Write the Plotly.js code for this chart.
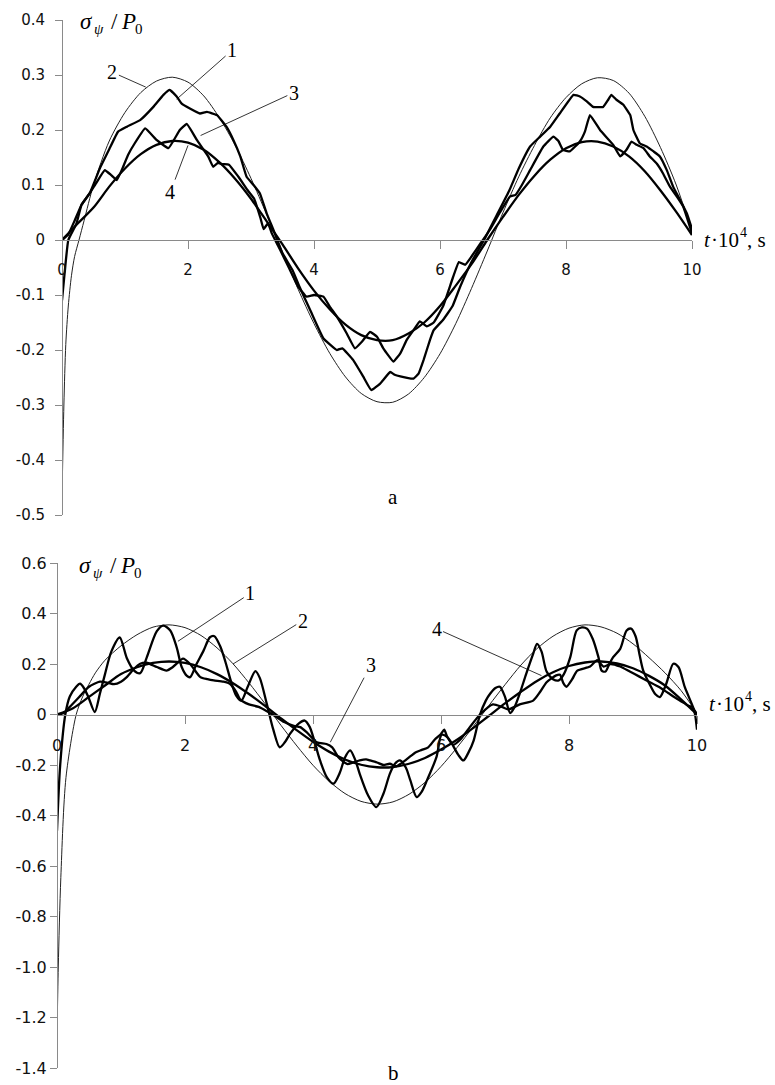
<!DOCTYPE html>
<html><head><meta charset="utf-8">
<script src="https://cdn.plot.ly/plotly-3.0.1.min.js"></script>
<style>html,body{margin:0;padding:0;background:#fff}#chart{width:775px;height:1085px}</style>
</head><body><div id="chart"></div>
<script>
// ---------- data ----------
const xTicks = [0, 2, 4, 6, 8, 10];
const xTickText = ["0", "2", "4", "6", "8", "10"];
const yTicksA = [-0.5, -0.4, -0.3, -0.2, -0.1, 0, 0.1, 0.2, 0.3, 0.4];
const yTickTextA = ["-0.5", "-0.4", "-0.3", "-0.2", "-0.1", "0", "0.1", "0.2", "0.3", "0.4"];
const yTicksB = [-1.4, -1.2, -1.0, -0.8, -0.6, -0.4, -0.2, 0, 0.2, 0.4, 0.6];
const yTickTextB = ["-1.4", "-1.2", "-1.0", "-0.8", "-0.6", "-0.4", "-0.2", "0", "0.2", "0.4", "0.6"];

const tGrid = [0,0.25,0.5,0.75,1,1.25,1.5,1.75,2,2.25,2.5,2.75,3,3.25,3.5,3.75,4,4.25,4.5,4.75,5,5.25,5.5,5.75,6,6.25,6.5,6.75,7,7.25,7.5,7.75,8,8.25,8.5,8.75,9,9.25,9.5,9.75,10];

// panel a
const tA1 = [0,0.05,0.1,0.23,0.31,0.44,0.6,0.75,0.89,1.03,1.24,1.45,1.61,1.71,1.82,1.9,2.03,2.19,2.3,2.46,2.61,2.72,2.83,2.93,3.04,3.14,3.25,3.35,3.5,3.66,3.77,3.95,4.15,4.36,4.45,4.62,4.78,4.91,5.05,5.21,5.28,5.37,5.58,5.66,5.74,5.84,5.9,6.05,6.2,6.32,6.5,6.7,6.9,7.1,7.25,7.43,7.59,7.75,7.9,8.12,8.22,8.33,8.43,8.59,8.67,8.72,8.8,8.91,9.02,9.07,9.17,9.28,9.39,9.49,9.6,9.7,9.81,9.92,10];
const sA1 = [-0.11,-0.05,0,0.03,0.064,0.085,0.13,0.165,0.197,0.206,0.218,0.242,0.264,0.273,0.261,0.248,0.239,0.23,0.233,0.227,0.206,0.182,0.152,0.115,0.1,0.085,0.048,0.02,-0.024,-0.055,-0.085,-0.13,-0.179,-0.2,-0.197,-0.218,-0.248,-0.273,-0.261,-0.24,-0.245,-0.248,-0.252,-0.243,-0.218,-0.182,-0.164,-0.145,-0.12,-0.085,-0.04,0,0.045,0.09,0.13,0.17,0.188,0.206,0.23,0.264,0.261,0.252,0.242,0.242,0.255,0.264,0.255,0.246,0.227,0.2,0.176,0.17,0.161,0.152,0.127,0.097,0.073,0.048,0.02];
const tA2 = [0,0.03,0.06,0.1,0.15,0.2,0.27,0.35,0.5,0.75,1,1.25,1.5,1.75,2,2.25,2.5,2.75,3,3.25,3.5,3.75,4,4.25,4.5,4.75,5,5.25,5.5,5.75,6,6.25,6.5,6.75,7,7.25,7.5,7.75,8,8.25,8.5,8.75,9,9.25,9.5,9.75,10];
const sA2 = [-0.47,-0.3,-0.19,-0.12,-0.065,-0.03,0,0.035,0.1,0.18,0.232,0.268,0.289,0.296,0.287,0.262,0.222,0.172,0.112,0.046,-0.022,-0.09,-0.152,-0.206,-0.249,-0.279,-0.294,-0.295,-0.28,-0.25,-0.207,-0.152,-0.088,-0.02,0.05,0.115,0.172,0.222,0.259,0.284,0.295,0.29,0.267,0.225,0.168,0.1,0.015];
const tA3 = [0,0.1,0.2,0.31,0.44,0.55,0.68,0.78,0.87,0.97,1.05,1.15,1.32,1.5,1.69,1.87,1.98,2.14,2.32,2.4,2.47,2.55,2.65,2.8,2.95,3.05,3.15,3.2,3.27,3.33,3.45,3.6,3.75,3.88,4.0,4.15,4.25,4.36,4.52,4.65,4.76,4.89,5.0,5.1,5.26,5.37,5.47,5.58,5.68,5.79,5.9,6.05,6.2,6.3,6.4,6.5,6.65,6.8,6.95,7.11,7.2,7.3,7.43,7.64,7.8,7.88,7.95,8.06,8.22,8.3,8.38,8.54,8.75,8.86,8.96,9.04,9.12,9.23,9.33,9.44,9.54,9.65,9.76,9.86,10];
const sA3 = [0,0.01,0.035,0.064,0.085,0.105,0.127,0.118,0.109,0.133,0.155,0.175,0.203,0.182,0.167,0.2,0.211,0.182,0.152,0.133,0.14,0.138,0.137,0.115,0.09,0.075,0.04,0.02,0.03,0.012,-0.015,-0.05,-0.085,-0.103,-0.1,-0.103,-0.121,-0.139,-0.17,-0.197,-0.185,-0.167,-0.176,-0.197,-0.221,-0.206,-0.182,-0.164,-0.148,-0.157,-0.15,-0.12,-0.07,-0.04,-0.045,-0.03,-0.005,0.02,0.05,0.079,0.082,0.1,0.127,0.17,0.188,0.18,0.164,0.161,0.179,0.197,0.227,0.2,0.173,0.152,0.164,0.179,0.173,0.167,0.152,0.139,0.121,0.097,0.079,0.061,0.012];
const sA4 = [0,0.03,0.059,0.097,0.13,0.156,0.173,0.18,0.177,0.164,0.141,0.111,0.075,0.034,-0.008,-0.052,-0.092,-0.126,-0.154,-0.173,-0.182,-0.182,-0.17,-0.15,-0.12,-0.083,-0.044,0,0.042,0.082,0.117,0.146,0.167,0.178,0.179,0.17,0.152,0.125,0.09,0.051,0.009];

// panel b
const tB1 = [0,0.05,0.13,0.2,0.3,0.36,0.42,0.49,0.59,0.67,0.75,0.85,0.98,1.09,1.2,1.3,1.4,1.56,1.66,1.77,1.87,1.95,2.03,2.08,2.18,2.29,2.39,2.46,2.55,2.63,2.72,2.8,2.88,2.98,3.1,3.17,3.28,3.38,3.48,3.56,3.64,3.78,3.87,3.95,4.11,4.22,4.32,4.42,4.5,4.58,4.66,4.73,4.86,4.99,5.1,5.2,5.28,5.36,5.45,5.52,5.62,5.7,5.78,5.93,6.01,6.1,6.19,6.27,6.35,6.43,6.51,6.61,6.7,6.77,6.85,6.92,7,7.08,7.15,7.23,7.33,7.44,7.5,7.57,7.65,7.75,7.84,7.92,8.02,8.12,8.2,8.28,8.37,8.46,8.51,8.57,8.63,8.69,8.8,8.9,8.97,9.04,9.1,9.16,9.26,9.35,9.42,9.52,9.63,9.71,9.81,9.94,9.97,10];
const sB1 = [-0.46,-0.2,0,0.071,0.11,0.122,0.105,0.069,0.01,0.082,0.16,0.25,0.305,0.224,0.175,0.164,0.224,0.33,0.352,0.333,0.266,0.187,0.153,0.148,0.2,0.253,0.306,0.31,0.27,0.21,0.13,0.075,0.055,0.11,0.172,0.144,0.04,-0.06,-0.13,-0.11,-0.077,-0.035,-0.024,-0.05,-0.182,-0.25,-0.274,-0.23,-0.17,-0.142,-0.18,-0.235,-0.32,-0.367,-0.314,-0.235,-0.195,-0.182,-0.21,-0.26,-0.327,-0.305,-0.261,-0.168,-0.08,-0.09,-0.124,-0.16,-0.182,-0.15,-0.103,0,0.055,0.083,0.105,0.11,0.07,0.006,0.03,0.083,0.16,0.24,0.28,0.25,0.17,0.14,0.135,0.16,0.227,0.333,0.345,0.34,0.3,0.227,0.174,0.17,0.2,0.227,0.26,0.333,0.34,0.31,0.24,0.174,0.12,0.08,0.069,0.122,0.201,0.188,0.108,0.028,0.0,-0.06];
const tB2 = [0,0.02,0.06,0.14,0.3,0.4,0.5,0.6,0.75,1,1.25,1.5,1.75,2,2.25,2.5,2.75,3,3.25,3.5,3.75,4,4.25,4.5,4.75,5,5.25,5.5,5.75,6,6.25,6.5,6.75,7,7.25,7.5,7.75,8,8.25,8.5,8.75,9,9.25,9.5,9.75,10];
const sB2 = [-1.28,-1.0,-0.645,-0.25,0,0.07,0.12,0.165,0.215,0.272,0.316,0.346,0.355,0.344,0.313,0.264,0.201,0.125,0.043,-0.043,-0.125,-0.201,-0.264,-0.313,-0.344,-0.355,-0.346,-0.316,-0.269,-0.206,-0.131,-0.049,0.036,0.118,0.196,0.261,0.31,0.342,0.355,0.347,0.322,0.28,0.225,0.165,0.095,0.005];
const tB3 = [0,0.1,0.2,0.35,0.5,0.67,0.8,0.89,1,1.09,1.2,1.3,1.4,1.56,1.71,1.81,1.97,2.08,2.24,2.35,2.45,2.6,2.7,2.8,2.86,3,3.15,3.28,3.4,3.55,3.7,3.8,3.9,4.06,4.21,4.3,4.4,4.53,4.63,4.73,4.83,4.89,5,5.1,5.2,5.3,5.4,5.5,5.6,5.7,5.8,5.9,6,6.05,6.1,6.19,6.3,6.45,6.61,6.81,6.95,7.05,7.23,7.44,7.55,7.65,7.8,7.86,7.91,7.96,8.05,8.13,8.33,8.44,8.54,8.65,8.8,8.95,9.1,9.25,9.4,9.55,9.7,9.8,9.86,9.92,10];
const sB3 = [0,0.005,0.03,0.07,0.11,0.13,0.125,0.12,0.13,0.148,0.18,0.201,0.205,0.188,0.174,0.188,0.221,0.2,0.148,0.14,0.135,0.13,0.122,0.09,0.06,0.04,0.03,0.013,-0.005,-0.03,-0.045,-0.05,-0.07,-0.11,-0.117,-0.13,-0.17,-0.196,-0.19,-0.182,-0.178,-0.182,-0.19,-0.2,-0.195,-0.205,-0.19,-0.17,-0.15,-0.14,-0.13,-0.1,-0.077,-0.06,-0.09,-0.12,-0.1,-0.05,0,0.04,0.03,0.02,0.04,0.055,0.09,0.128,0.155,0.157,0.125,0.11,0.14,0.174,0.19,0.215,0.19,0.2,0.19,0.17,0.15,0.13,0.11,0.085,0.06,0.045,0.035,0.03,0];
const sB4 = [0,0.025,0.07,0.115,0.16,0.187,0.204,0.21,0.204,0.187,0.16,0.124,0.081,0.034,-0.015,-0.063,-0.108,-0.147,-0.178,-0.199,-0.209,-0.208,-0.195,-0.172,-0.139,-0.1,-0.054,-0.005,0.044,0.09,0.133,0.167,0.192,0.206,0.21,0.202,0.183,0.153,0.115,0.06,0];

// ---------- layout helpers ----------
const W = 775, H = 1085;
const fy = py => 1 - py / H;
const domA = {x: [62 / W, 692 / W], y: [fy(515), fy(20)]};
const domB = {x: [57 / W, 697 / W], y: [fy(1068), fy(563)]};
const rangeA = [-0.5, 0.4], rangeB = [-1.4, 0.6];
const zeroPos = (dom, r) => dom[0] + (0 - r[0]) / (r[1] - r[0]) * (dom[1] - dom[0]);

const AX = '#8a8a8a';
const sansA = {family: 'DejaVu Sans, Verdana, sans-serif', size: 15, color: '#111'};
const sansB = {family: 'DejaVu Sans, Verdana, sans-serif', size: 16, color: '#111'};
const serif = 'Liberation Serif, Times New Roman, serif';

function xAxis(dom, yr, ydom, font) {
  return {domain: dom, range: [0, 10], anchor: 'free', position: zeroPos(ydom, yr),
    showline: true, linecolor: AX, linewidth: 1, ticks: 'outside', ticklen: 8, tickcolor: AX, tickwidth: 1,
    tickmode: 'array', tickvals: xTicks, ticktext: xTickText, tickfont: font, ticklabelstandoff: 8,
    showgrid: false, zeroline: false, fixedrange: true};
}
function yAxis(dom, r, xpos, vals, txt, font, standoff) {
  return {domain: dom, range: r, anchor: 'free', position: xpos,
    showline: true, linecolor: AX, linewidth: 1, ticks: 'outside', ticklen: 7, tickcolor: AX, tickwidth: 1,
    tickmode: 'array', tickvals: vals, ticktext: txt, tickfont: font, ticklabelstandoff: standoff,
    showgrid: false, zeroline: false, fixedrange: true};
}

const thin = {color: '#222', width: 1};
const bold = {color: '#000', width: 2.3};

const traces = [
  {x: tA2, y: sA2, xaxis: 'x', yaxis: 'y', mode: 'lines', line: Object.assign({shape: 'spline', smoothing: 0.8}, thin)},
  {x: tGrid, y: sA4, xaxis: 'x', yaxis: 'y', mode: 'lines', line: Object.assign({shape: 'spline', smoothing: 0.8}, bold)},
  {x: tA3, y: sA3, xaxis: 'x', yaxis: 'y', mode: 'lines', line: Object.assign({shape: 'spline', smoothing: 0.3}, bold)},
  {x: tA1, y: sA1, xaxis: 'x', yaxis: 'y', mode: 'lines', line: Object.assign({shape: 'spline', smoothing: 0.3}, bold)},
  {x: tB2, y: sB2, xaxis: 'x2', yaxis: 'y2', mode: 'lines', line: Object.assign({shape: 'spline', smoothing: 0.8}, thin)},
  {x: tGrid, y: sB4, xaxis: 'x2', yaxis: 'y2', mode: 'lines', line: Object.assign({shape: 'spline', smoothing: 0.8}, bold)},
  {x: tB3, y: sB3, xaxis: 'x2', yaxis: 'y2', mode: 'lines', line: Object.assign({shape: 'spline', smoothing: 0.6}, bold)},
  {x: tB1, y: sB1, xaxis: 'x2', yaxis: 'y2', mode: 'lines', line: Object.assign({shape: 'spline', smoothing: 0.8}, bold)}
];

function leader(xr, yr, txt, tip, pos) {
  return {xref: xr, yref: yr, axref: xr, ayref: yr, x: tip[0], y: tip[1], ax: pos[0], ay: pos[1],
    text: txt, showarrow: true, arrowhead: 0, arrowwidth: 0.8, arrowcolor: '#000', standoff: 0,
    font: {family: serif, size: 20, color: '#000'}};
}
function note(px, py, txt, size, italic, anchor) {
  return {xref: 'paper', yref: 'paper', x: px / W, y: fy(py), xanchor: anchor || 'left', yanchor: 'middle',
    text: txt, showarrow: false, borderpad: 0,
    font: {family: serif, size: size, color: '#000', style: italic ? 'italic' : 'normal'}};
}
// y-axis title σψ / P0 built from pieces (subscripts lowered)
function sigmaTitle(x0, yc) {
  return [
    note(x0, yc, 'σ', 23, true),
    note(x0 + 14, yc + 8, 'ψ', 15, true),
    note(x0 + 31, yc, '/', 23, false),
    note(x0 + 41, yc, 'P', 23, true),
    note(x0 + 55, yc + 8, '0', 15, false)
  ];
}
// x-axis title t·10^4, s built from pieces (exponent raised)
function timeTitle(x0, yc) {
  return [
    note(x0, yc, 't', 21, true),
    note(x0 + 7, yc, '·10', 21, false),
    note(x0 + 36, yc - 8, '4', 14, false),
    note(x0 + 43, yc, ', s', 21, false)
  ];
}

const annotations = [
  leader('x', 'y', '1', [1.82, 0.256], [2.7, 0.345]),
  leader('x', 'y', '2', [1.33, 0.278], [0.8, 0.305]),
  leader('x', 'y', '3', [2.2, 0.19], [3.68, 0.268]),
  leader('x', 'y', '4', [2.0, 0.172], [1.72, 0.087]),
  leader('x2', 'y2', '1', [1.89, 0.29], [3.02, 0.48]),
  leader('x2', 'y2', '2', [2.75, 0.2], [3.84, 0.372]),
  leader('x2', 'y2', '3', [4.27, -0.11], [4.9, 0.195]),
  leader('x2', 'y2', '4', [7.57, 0.154], [5.93, 0.34])
].concat(
  sigmaTitle(79, 21),
  sigmaTitle(78, 565),
  timeTitle(703, 240),
  timeTitle(708, 704),
  [note(393, 497, 'a', 21, false, 'center'), note(393, 1073, 'b', 21, false, 'center')]
);

const layout = {
  width: W, height: H, margin: {l: 0, r: 0, t: 0, b: 0}, showlegend: false,
  paper_bgcolor: '#fff', plot_bgcolor: 'rgba(0,0,0,0)',
  xaxis: xAxis(domA.x, rangeA, domA.y, sansA),
  yaxis: yAxis(domA.y, rangeA, domA.x[0], yTicksA, yTickTextA, sansA, 7),
  xaxis2: xAxis(domB.x, rangeB, domB.y, sansB),
  yaxis2: yAxis(domB.y, rangeB, domB.x[0], yTicksB, yTickTextB, sansB, 0),
  annotations: annotations
};

Plotly.newPlot('chart', traces, layout, {staticPlot: true, displayModeBar: false});
</script></body></html>
